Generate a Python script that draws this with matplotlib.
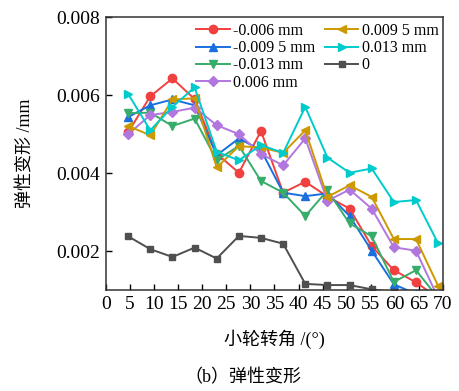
import matplotlib
matplotlib.use("Agg")
import matplotlib.pyplot as plt
from matplotlib.ticker import FormatStrFormatter

plt.rcParams['font.family'] = ['Liberation Serif', 'Noto Sans CJK SC']
plt.rcParams['mathtext.fontset'] = 'stix'

# small wheel rotation angle (deg)
angle = [4.6, 9.2, 13.8, 18.4, 23.0, 27.6, 32.2, 36.8, 41.4, 46.0, 50.6, 55.2, 59.8, 64.4, 69.0]

labels = ['-0.006 mm', '-0.009 5 mm', '-0.013 mm', '0.006 mm',
          '0.009 5 mm', '0.013 mm', '0']

d_m006 = [0.00505, 0.00597, 0.00643, 0.00590, 0.00450, 0.00401, 0.00508, 0.00350,
          0.00378, 0.00340, 0.00309, 0.00213, 0.00151, 0.00120, 0.00080]
d_m0095 = [0.00544, 0.00574, 0.00589, 0.00574, 0.00446, 0.00489, 0.00459, 0.00350,
           0.00341, 0.00348, 0.00290, 0.00201, 0.00115, 0.00090, 0.00080]
d_m013 = [0.00554, 0.00555, 0.00521, 0.00540, 0.00433, 0.00470, 0.00380, 0.00350,
          0.00290, 0.00356, 0.00271, 0.00238, 0.00121, 0.00151, 0.00080]
d_p006 = [0.00500, 0.00549, 0.00557, 0.00568, 0.00523, 0.00500, 0.00449, 0.00420,
          0.00489, 0.00329, 0.00358, 0.00309, 0.00210, 0.00201, 0.00080]
d_p0095 = [0.00521, 0.00497, 0.00589, 0.00592, 0.00415, 0.00469, 0.00466, 0.00452,
           0.00510, 0.00339, 0.00369, 0.00339, 0.00231, 0.00231, 0.00111]
d_p013 = [0.00603, 0.00510, 0.00570, 0.00620, 0.00455, 0.00433, 0.00472, 0.00452,
          0.00570, 0.00440, 0.00401, 0.00412, 0.00326, 0.00331, 0.00220]
d_zero = [0.00238, 0.00205, 0.00185, 0.00209, 0.00181, 0.00239, 0.00234, 0.00219,
          0.00116, 0.00113, 0.00113, 0.00102, 0.00095, 0.00090, 0.00080]

series = [d_m006, d_m0095, d_m013, d_p006, d_p0095, d_p013, d_zero]
colors = ['#F14040', '#1A6FDF', '#37AD6B', '#B177DE', '#CC9900', '#00CBCC', '#4F4F4F']
markers = ['o', '^', 'v', 'D', '<', '>', 's']
msizes = [6, 6, 6, 5, 6, 6, 5]

fig = plt.figure(figsize=(4.59, 3.91), dpi=100)
ax = fig.add_axes([0.231, 0.258, 0.734, 0.698])

for ys, lab, c, m, ms in zip(series, labels, colors, markers, msizes):
    ax.plot(angle, ys, color=c, marker=m, markersize=ms, linewidth=1.4, label=lab)

ax.set_xlim(0, 70)
ax.set_ylim(0.001, 0.008)
ax.set_xticks(range(0, 71, 5))
ax.set_yticks([0.002, 0.004, 0.006, 0.008])
ax.yaxis.set_major_formatter(FormatStrFormatter('%.3f'))
ax.tick_params(direction='in', length=4, width=1, labelsize=14, pad=4)
for s in ax.spines.values():
    s.set_linewidth(1.1)
    s.set_color('#333333')

ax.set_xlabel('小轮转角 /(°)', fontsize=13, labelpad=12)
ax.set_ylabel('弹性变形 /mm', fontsize=13, labelpad=16)

ax.legend(ncol=2, loc='upper left', bbox_to_anchor=(0.235, 1.02), frameon=False,
          fontsize=11.5, labelspacing=0.08, handlelength=2.1, handletextpad=0.2,
          columnspacing=0.6, borderpad=0.2)

fig.text(0.53, 0.033, '（b）弹性变形', ha='center', va='center', fontsize=13)

fig.savefig('out.png', dpi=100, facecolor='white')
